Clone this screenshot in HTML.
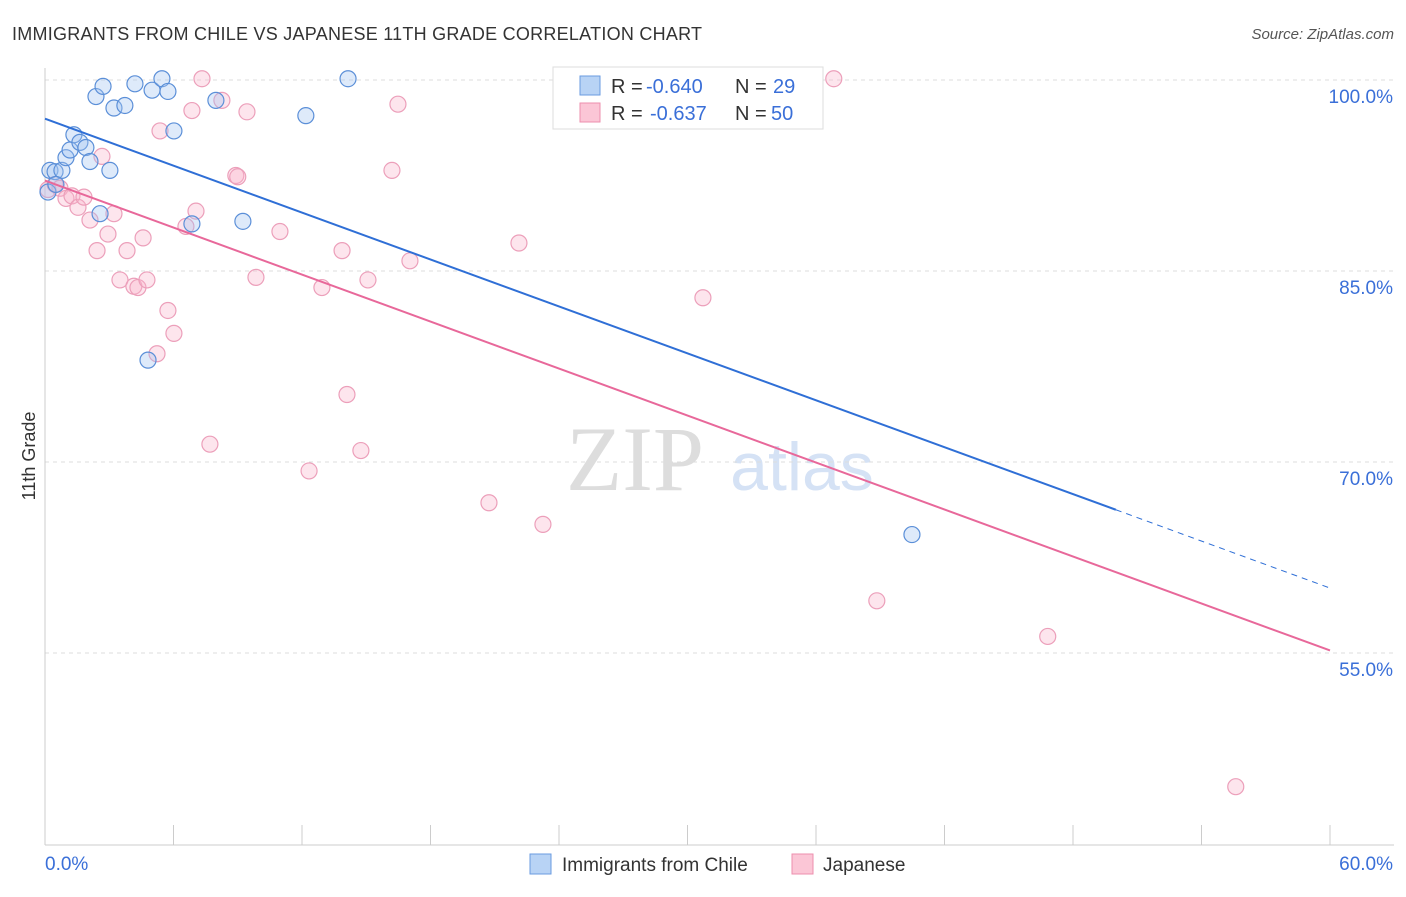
<!DOCTYPE html>
<html><head><meta charset="utf-8"><style>
body{margin:0;background:#fff;font-family:"Liberation Sans",sans-serif}
</style></head><body>
<svg id="c" width="1406" height="892" xmlns="http://www.w3.org/2000/svg" font-family="Liberation Sans, sans-serif">
<text x="12" y="40" font-size="18" fill="#333" textLength="690">IMMIGRANTS FROM CHILE VS JAPANESE 11TH GRADE CORRELATION CHART</text>
<text x="1394" y="39" font-size="15" fill="#555" font-style="italic" text-anchor="end">Source: ZipAtlas.com</text>
<text x="35" y="456" font-size="18" fill="#333" transform="rotate(-90 35 456)" text-anchor="middle">11th Grade</text>
<text x="635" y="490" font-size="92" fill="#ddd" font-family="Liberation Serif, serif" text-anchor="middle">ZIP</text>
<text x="802" y="490" font-size="68" fill="#d5e2f5" text-anchor="middle">atlas</text>
<g id="grid"></g><g id="axes"></g><g id="pts"></g><g id="lines"></g>
<g font-size="20">
<rect x="553" y="67" width="270" height="62" fill="#fff" stroke="#ddd"/>
<rect x="580" y="76" width="20" height="19" fill="#b8d3f5" stroke="#6a9be0"/>
<rect x="580" y="103" width="20" height="19" fill="#fbc6d6" stroke="#ec8fae"/>
<text x="611" y="93" fill="#333">R =</text>
<text x="646" y="93" fill="#3a6fd8">-0.640</text>
<text x="735" y="93" fill="#333">N =</text>
<text x="773" y="93" fill="#3a6fd8">29</text>
<text x="611" y="120" fill="#333">R =</text>
<text x="650" y="120" fill="#3a6fd8">-0.637</text>
<text x="735" y="120" fill="#333">N =</text>
<text x="771" y="120" fill="#3a6fd8">50</text>
</g>
<g>
<rect x="530" y="854" width="21" height="20" fill="#b8d3f5" stroke="#6a9be0"/>
<text x="562" y="871" font-size="19" fill="#333">Immigrants from Chile</text>
<rect x="792" y="854" width="21" height="20" fill="#fbc6d6" stroke="#ec8fae"/>
<text x="823" y="871" font-size="19" fill="#333">Japanese</text>
</g>
</svg>
<script>
const yTicks=[100,85,70,55];
const yTickLabels=["100.0%","85.0%","70.0%","55.0%"];
const chileX=[0.23,0.47,0.79,0.98,1.17,1.35,1.63,1.91,2.10,2.38,2.71,3.03,3.22,3.73,4.20,5.0,5.46,5.74,6.02,2.57,4.81,6.86,7.98,9.24,12.18,14.15,40.48,0.14,0.51];
const chileY=[92.9,92.8,92.9,93.9,94.5,95.7,95.1,94.7,93.6,98.7,99.5,92.9,97.8,98.0,99.7,99.2,100.1,99.1,96.0,89.5,78.0,88.7,98.4,88.9,97.2,100.1,64.3,91.2,91.8];
const japX=[0.14,0.47,0.70,0.98,1.26,1.54,1.82,2.10,2.43,2.66,2.94,3.22,3.50,3.83,4.15,4.34,4.58,4.76,5.23,5.37,5.74,6.02,6.58,6.86,7.05,7.33,7.70,8.26,8.91,9.0,9.43,9.85,10.97,12.33,12.93,13.87,14.10,14.75,15.08,16.20,16.48,17.04,20.73,22.13,23.25,30.72,36.83,38.84,46.82,55.6];
const japY=[91.4,91.8,91.5,90.7,90.9,90.0,90.8,89.0,86.6,94.0,87.9,89.5,84.3,86.6,83.8,83.7,87.6,84.3,78.5,96.0,81.9,80.1,88.5,97.6,89.7,100.1,71.4,98.4,92.5,92.4,97.5,84.5,88.1,69.3,83.7,86.6,75.3,70.9,84.3,92.9,98.1,85.8,66.8,87.2,65.1,82.9,100.1,59.1,56.3,44.5];
const chileTrend=[[0,96.96],[50,66.25],[60,60.1]];
const japTrend=[[0,92.1],[60,55.2]];
const NS="http://www.w3.org/2000/svg";
const sx=v=>45+v*1285/60, sy=v=>80+(100-v)*191/15;
function mk(p,t,a){const e=document.createElementNS(NS,t);for(const k in a)e.setAttribute(k,a[k]);document.getElementById(p).appendChild(e);return e;}
yTicks.forEach((t,i)=>{
 const l=mk('grid','line',{x1:45,x2:1394,y1:sy(t),y2:sy(t),stroke:'#ddd','stroke-dasharray':'4,4'});
 
 
 const tx=mk('grid','text',{x:1393,y:sy(t)+23,'font-size':19,fill:'#3a6fd8','text-anchor':'end'});
 tx.textContent=yTickLabels[i];
 
 
});
const ax=mk('axes','line',{x1:45,x2:1394,y1:845,y2:845,stroke:'#ccc'});


const ay=mk('axes','line',{x1:45,x2:45,y1:68,y2:845,stroke:'#ccc'});


for(let i=0;i<=10;i++){const t=mk('axes','line',{x1:sx(i*6),x2:sx(i*6),y1:825,y2:845,stroke:'#ccc'});
 
 }
[["0.0%",45,'start'],["60.0%",1393,'end']].forEach(d=>{const t=mk('axes','text',{x:d[1],y:870,'font-size':19,fill:'#3a6fd8','text-anchor':d[2]});t.textContent=d[0];
 
 });
japX.forEach((x,i)=>{const c=mk('pts','circle',{cx:sx(x),cy:sy(japY[i]),r:8,fill:'rgba(248,180,202,0.35)',stroke:'#ec9fba','stroke-width':1.2});
 
 });
chileX.forEach((x,i)=>{const c=mk('pts','circle',{cx:sx(x),cy:sy(chileY[i]),r:8,fill:'rgba(160,195,240,0.35)',stroke:'#5b8fd8','stroke-width':1.2});
 
 });
let l=mk('lines','line',{x1:sx(chileTrend[0][0]),y1:sy(chileTrend[0][1]),x2:sx(chileTrend[1][0]),y2:sy(chileTrend[1][1]),stroke:'#2f6fd6','stroke-width':2});


l=mk('lines','line',{x1:sx(chileTrend[1][0]),y1:sy(chileTrend[1][1]),x2:sx(chileTrend[2][0]),y2:sy(chileTrend[2][1]),stroke:'#2f6fd6','stroke-width':1,'stroke-dasharray':'6,5'});


l=mk('lines','line',{x1:sx(japTrend[0][0]),y1:sy(japTrend[0][1]),x2:sx(japTrend[1][0]),y2:sy(japTrend[1][1]),stroke:'#e8689a','stroke-width':2});


</script>
</body></html>
